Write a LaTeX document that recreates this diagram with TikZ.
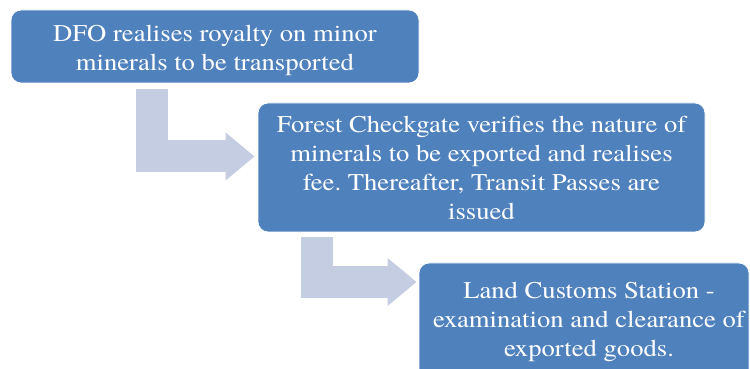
\documentclass[tikz,border=0pt]{standalone}
\usepackage{fontspec}
\setmainfont[FakeStretch=1.11]{TeX Gyre Termes}
\usetikzlibrary{arrows.meta}
\definecolor{boxblue}{RGB}{79,129,189}
\definecolor{arrowgray}{RGB}{196,205,225}
\frenchspacing
\begin{document}
\begin{tikzpicture}[line join=miter,
  stepbox/.style={draw=white,line width=0.8bp,fill=boxblue,rounded corners=10bp,text=white,align=center,inner sep=0pt,font=\fontsize{24bp}{29bp}\selectfont},
  flow/.style={draw=arrowgray,line width=32bp,-{Triangle[width=46bp,length=29bp]}}]
%%
\useasboundingbox (0bp,0bp) rectangle (750bp,369bp);
\clip (0bp,0bp) rectangle (750bp,369bp);
\node (node_0) at (215.0bp,322.5bp) [stepbox,minimum width=408bp,minimum height=73bp] {\rule{0pt}{25bp}DFO realises royalty on minor\\minerals to be transported};
  \node (node_1) at (481.5bp,201.5bp) [stepbox,minimum width=447bp,minimum height=129bp] {Forest Checkgate verifies the nature of\\minerals to be exported and realises\\fee. Thereafter, Transit Passes are\\issued};
  \node (node_2) at (584.0bp,47.5bp) [stepbox,minimum width=330bp,minimum height=117bp] {\hspace{10bp}Land Customs Station -\\\hspace{10bp}examination and clearance of\\\hspace{10bp}exported goods.};
  \coordinate (bend_0) at (152.0bp,212.5bp);
  \coordinate (bend_1) at (317.0bp,87.0bp);
  \draw [flow,shorten <=6bp,shorten >=3bp] (node_0.south -| bend_0) |- (node_1.west |- bend_0);
  \draw [flow,shorten <=5bp,shorten >=2bp] (node_1.south -| bend_1) |- (node_2.west |- bend_1);
%
\end{tikzpicture}
\end{document}
